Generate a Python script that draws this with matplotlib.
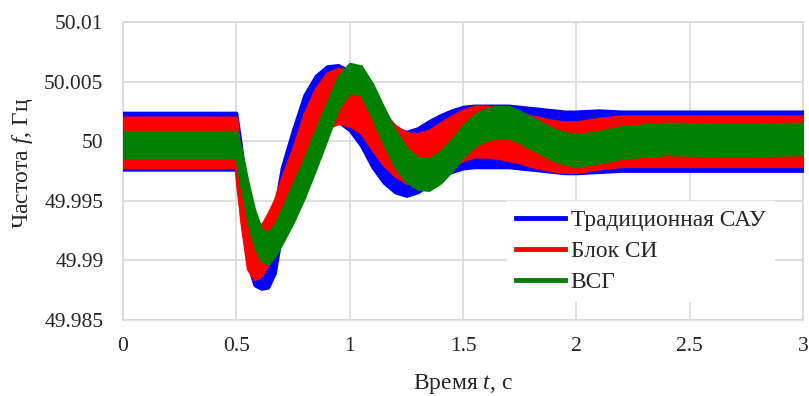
import matplotlib
matplotlib.use('Agg')
import matplotlib.pyplot as plt
from matplotlib.lines import Line2D
import numpy as np

plt.rcParams.update({'font.family': ['Liberation Serif', 'DejaVu Serif'],
                     'mathtext.fontset': 'custom',
                     'mathtext.rm': 'Liberation Serif',
                     'mathtext.it': 'Liberation Serif:italic'})

# time knots, s
t = [0, 0.5, 0.52, 0.55, 0.58, 0.61, 0.64, 0.67, 0.7, 0.75, 0.8, 0.85, 0.9,
     0.95, 1.0, 1.05, 1.1, 1.15, 1.2, 1.25, 1.3, 1.35, 1.4, 1.45, 1.5, 1.55,
     1.6, 1.65, 1.7, 1.75, 1.8, 1.85, 1.9, 1.95, 2.0, 2.1, 2.2, 2.4, 2.6, 2.8, 3.0]

# mean frequency, Hz
f_sau = [50.0000, 50.0000, 49.9971, 49.9924, 49.9906, 49.9903, 49.9904, 49.9917,
         49.9950, 49.9982, 50.0012, 50.0030, 50.0039, 50.0040, 50.0034, 50.0022,
         50.0005, 49.9992, 49.9984, 49.9981, 49.9984, 49.9990, 49.9996, 50.0000,
         50.0003, 50.0004, 50.0004, 50.0004, 50.0004, 50.0003, 50.0002, 50.0001,
         50.0000, 49.9999, 49.9999, 50.0000, 50.0000, 50.0000, 50.0000, 50.0000, 50.0000]
f_si = [49.9999, 49.9999, 49.9958, 49.9917, 49.9906, 49.9908, 49.9918, 49.9929,
        49.9946, 49.9971, 50.0000, 50.0021, 50.0034, 50.0038, 50.0036, 50.0030,
        50.0016, 50.0002, 49.9992, 49.9986, 49.9985, 49.9988, 49.9994, 50.0000,
        50.0005, 50.0008, 50.0008, 50.0007, 50.0005, 50.0003, 50.0000, 49.9998,
        49.9996, 49.9995, 49.9995, 49.9998, 50.0000, 50.0000, 50.0000, 50.0000, 50.0000]
f_vsg = [49.9997, 49.9997, 49.9979, 49.9950, 49.9927, 49.9913, 49.9910, 49.9917,
         49.9928, 49.9948, 49.9969, 49.9993, 50.0017, 50.0041, 50.0053, 50.0051,
         50.0034, 50.0013, 49.9994, 49.9980, 49.9973, 49.9972, 49.9978, 49.9988,
         50.0000, 50.0009, 50.0014, 50.0016, 50.0016, 50.0012, 50.0007, 50.0002,
         49.9997, 49.9994, 49.9992, 49.9995, 49.9999, 50.0002, 50.0001, 50.0001, 50.0002]

# ripple half-width, Hz
r_sau = [0.0024, 0.0024, 0.0027, 0.0027, 0.0027, 0.0027, 0.0027, 0.0028,
         0.0028, 0.0028, 0.0027, 0.0025, 0.0024, 0.0024, 0.0025, 0.0026,
         0.0027, 0.0027, 0.0027, 0.0027, 0.0027, 0.0027, 0.0026, 0.0026,
         0.0026, 0.0026, 0.0026, 0.0026, 0.0026, 0.0026, 0.0026, 0.0026,
         0.0026, 0.0026, 0.0026, 0.0026, 0.0025, 0.0025, 0.0025, 0.0025, 0.0025]
r_si = [0.0021, 0.0021, 0.0024, 0.0024, 0.0022, 0.0021, 0.0021, 0.0022,
        0.0023, 0.0023, 0.0023, 0.0023, 0.0023, 0.0023, 0.0023, 0.0023,
        0.0023, 0.0022, 0.0021, 0.0021, 0.0021, 0.0021, 0.0021, 0.0021,
        0.0021, 0.0021, 0.0021, 0.0021, 0.0021, 0.0021, 0.0021, 0.0021,
        0.0021, 0.0021, 0.0021, 0.0021, 0.0021, 0.0021, 0.0021, 0.0021, 0.0021]
r_vsg = [0.0011, 0.0011, 0.0015, 0.0016, 0.0015, 0.0013, 0.0013, 0.0013,
         0.0014, 0.0016, 0.0016, 0.0016, 0.0015, 0.0013, 0.0012, 0.0012,
         0.0014, 0.0015, 0.0015, 0.0014, 0.0013, 0.0013, 0.0013, 0.0013,
         0.0013, 0.0013, 0.0013, 0.0013, 0.0013, 0.0013, 0.0013, 0.0013,
         0.0013, 0.0013, 0.0013, 0.0013, 0.0013, 0.0013, 0.0013, 0.0013, 0.0013]

labels = ['Традиционная САУ', 'Блок СИ', 'ВСГ']
colors = ['#0000ff', '#ff0000', '#008000']

x_ticks = [0, 0.5, 1, 1.5, 2, 2.5, 3]
x_ticklabels = ['0', '0.5', '1', '1.5', '2', '2.5', '3']
y_ticks = [49.985, 49.99, 49.995, 50, 50.005, 50.01]
y_ticklabels = ['49.985', '49.99', '49.995', '50', '50.005', '50.01']

fig = plt.figure(figsize=(8.09, 3.96), dpi=100)
ax = fig.add_axes([0.152, 0.192, 0.8406, 0.7525])

series = [(f_sau, r_sau), (f_si, r_si), (f_vsg, r_vsg)]
for (f, r), c in zip(series, colors):
    f = np.array(f)
    r = np.array(r)
    ax.fill_between(t, f - r, f + r, color=c, lw=2, zorder=3)
    ax.plot(t, f, color=c, lw=6, solid_capstyle='butt', zorder=3)

ax.set_xlim(0, 3)
ax.set_ylim(49.985, 50.01)
ax.set_xticks(x_ticks)
ax.set_xticklabels(x_ticklabels)
ax.set_yticks(y_ticks)
ax.set_yticklabels(y_ticklabels)
ax.tick_params(length=0, labelsize=15.5, colors='#262626')
ax.tick_params(axis='y', pad=14)
ax.tick_params(axis='x', pad=12)
ax.grid(True, color='#d9d9d9', lw=1.2)
ax.set_axisbelow(True)
for s in ax.spines.values():
    s.set_color('#d9d9d9')
    s.set_linewidth(1.2)

ax.set_xlabel('Время $t$, с', fontsize=17, color='#262626')
ax.set_ylabel('Частота $f$, Гц', fontsize=17, color='#262626')
ax.yaxis.set_label_coords(-0.13, 0.527)
ax.xaxis.set_label_coords(0.5, -0.175)

handles = [Line2D([], [], color=c, lw=3.5) for c in colors]
leg = ax.legend(handles, labels, loc='upper left', bbox_to_anchor=(0.564, 0.40),
                fontsize=16.8, frameon=True, fancybox=False, framealpha=1,
                edgecolor='none', facecolor='white', handlelength=2.1,
                handletextpad=0.25, labelspacing=0.4, borderpad=0.4,
                borderaxespad=0)
leg.set_zorder(5)
for txt in leg.get_texts():
    txt.set_color('#262626')

fig.savefig('out.png', dpi=100)
